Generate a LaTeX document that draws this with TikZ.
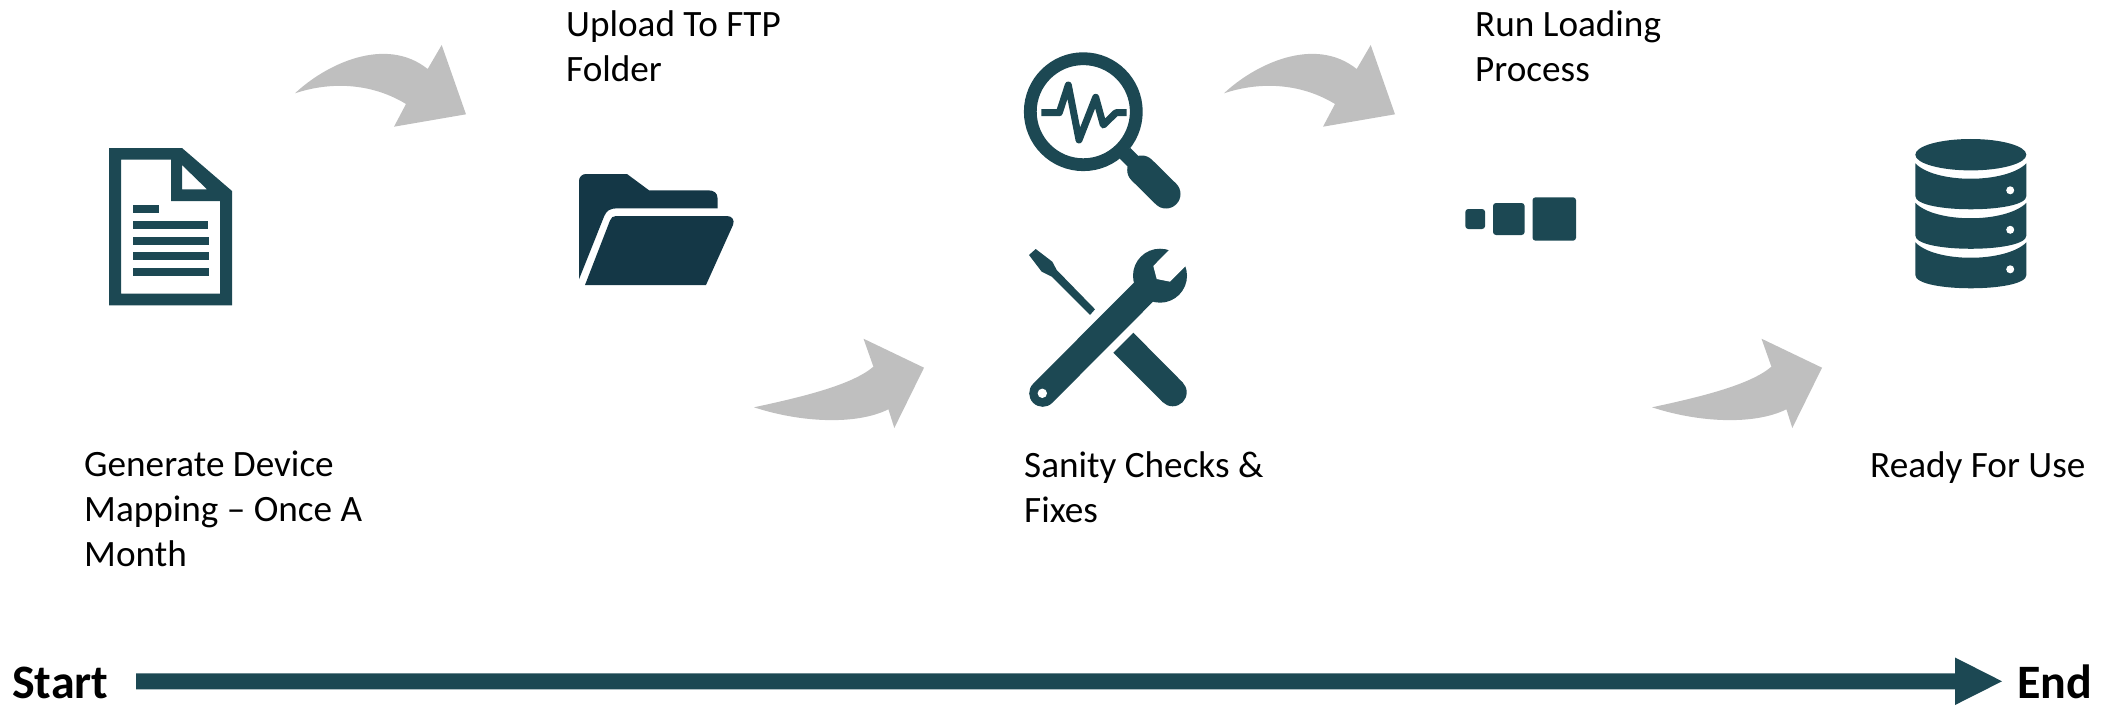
\documentclass[tikz,border=0pt]{standalone}
\usepackage{fontspec}
\setmainfont{Carlito}
\definecolor{teal}{HTML}{1C4853}
\definecolor{navy}{HTML}{143746}
\definecolor{arrowgray}{HTML}{BFBFBF}
\tikzset{
  label/.style={anchor=north west,inner sep=0pt,align=left,text=black,font=\fontsize{37.2}{45}\selectfont},
  endlabel/.style={anchor=base west,inner sep=0pt,text=black,font=\fontsize{48}{54}\selectfont\bfseries},
  icon/.style={fill=teal,draw=none},
  hole/.style={fill=white,draw=none},
  overarrow/.pic={\fill[arrowgray] (295,93.3) .. controls (325,65) and (385,35) .. (427.7,69) -- (441.7,45) -- (466,114.3) -- (394,126.7) -- (406,104) .. controls (375,85) and (335,80) .. (295,93.3) -- cycle;},
  underarrow/.pic={\fill[arrowgray] (1652,407.3) .. controls (1700,397) and (1750,385) .. (1771.4,366.7) -- (1761.5,338.7) -- (1822,367.7) -- (1792.3,428) -- (1786.4,409.3) .. controls (1755,425) and (1700,423) .. (1652,407.3) -- cycle;},
  dblayer/.pic={\fill[teal] (1915.3,163.3) .. controls (1935,183.9) and (2006,183.9) .. (2026.4,163.3) -- (2026.4,196) .. controls (2026.4,213.7) and (1915.3,213.7) .. (1915.3,196) -- cycle;
    \fill[white] (2010.2,190.3) ellipse (4 and 4);}
}
\begin{document}
\begin{tikzpicture}[x=1pt,y=-1pt]
\useasboundingbox (0,0) rectangle (2114,706);
% curved arrows
\pic at (0,0) {overarrow};
\pic at (929,0) {overarrow};
\pic at (-898,0) {underarrow};
\pic at (0,0) {underarrow};
% document
\fill[icon,even odd rule] (109,148) -- (182,148) -- (232,191) -- (232,305.3) -- (109,305.3) -- cycle
  (121,159.7) -- (171,159.7) -- (171,201) -- (220,201) -- (220,293.7) -- (121,293.7) -- cycle
  (182,165) -- (207,189.3) -- (182,189.3) -- cycle;
\fill[icon] (133,205) rectangle (159,213);
\fill[icon] (133,220.7) rectangle (208,228.7);
\fill[icon] (133,237) rectangle (209,245);
\fill[icon] (133,252) rectangle (209,260);
\fill[icon] (133,268) rectangle (209,276);
% folder
\fill[navy] (579,181) .. controls (579,177) and (582,174) .. (586,174) -- (627,174) -- (649,190.3) -- (708,190.3) .. controls (714,190.3) and (717.5,193) .. (717.5,198) -- (717.5,208.3) -- (617,208.3) .. controls (610,208.3) and (606,211) .. (604,216.7) -- (579,279.3) -- cycle;
\fill[navy] (585,285) -- (610,220.5) .. controls (611,217.5) and (613,216) .. (616,216) -- (727,216) .. controls (732,216) and (735,220) .. (733,225) -- (706,285) -- cycle;
% magnifier
\draw[teal,line width=12.8pt] (1083.3,111.7) circle (53);
\draw[teal,line width=7pt,line join=round] (1041.3,112.7) -- (1059.3,112.7) -- (1068.3,85) -- (1079,140) -- (1095.7,97.3) -- (1103.3,125) -- (1116,112.7) -- (1126.7,112.7);
\draw[teal,line width=15pt] (1125,153.3) -- (1141.7,170);
\draw[teal,line width=29pt,line cap=round] (1141.7,170) -- (1166,194);
% screwdriver
\fill[icon] (1029,255) -- (1035.7,249) -- (1052.3,261.7) -- (1056.7,270) -- (1095,309.3) -- (1090,315) -- (1051.7,276.7) -- (1041.7,271.7) -- cycle;
\fill[icon] (1113.3,352.7) -- (1133.3,332.7) -- (1182.6,382.4) -- (1162.8,402.2) -- cycle;
\fill[icon] (1172.7,392.3) circle (14);
% wrench
\draw[teal,line width=27pt,line cap=round] (1042.7,393.3) -- (1143.3,292.3);
\fill[icon] (1160,275.7) circle (27);
\fill[hole] (1169,250) -- (1153.3,266) -- (1156.7,279) -- (1170,281.7) -- (1185.7,266) -- (1192,244) -- cycle;
\fill[hole] (1042.3,393.3) circle (4.7);
% squares
\fill[icon,rounded corners=3pt] (1465.3,209) rectangle (1485.1,229);
\fill[icon,rounded corners=3pt] (1493,203) rectangle (1524.6,235);
\fill[icon,rounded corners=3pt] (1532.5,197.3) rectangle (1576,240.7);
% database
\fill[icon] (1970.8,154.7) ellipse (55.5 and 15.7);
\pic at (0,0) {dblayer};
\pic at (0,39.5) {dblayer};
\pic at (0,79) {dblayer};
% timeline
\fill[icon] (136,673.3) -- (1955,673.3) -- (1955,657.5) -- (2002,681.3) -- (1955,705) -- (1955,689.3) -- (136,689.3) -- cycle;
% labels
\node[endlabel] (start) at (12,698) {Start};
\node[endlabel] (end) at (2017,698) {End};
\node[label] (gen) at (84,451) {Generate Device\\Mapping – Once A\\Month};
\node[label] (upl) at (566,10) {Upload To FTP\\Folder};
\node[label] (san) at (1024,451) {Sanity Checks \&\\Fixes};
\node[label] (run) at (1475,10) {Run Loading\\Process};
\node[label] (rdy) at (1870,451) {Ready For Use};
\end{tikzpicture}
\end{document}
